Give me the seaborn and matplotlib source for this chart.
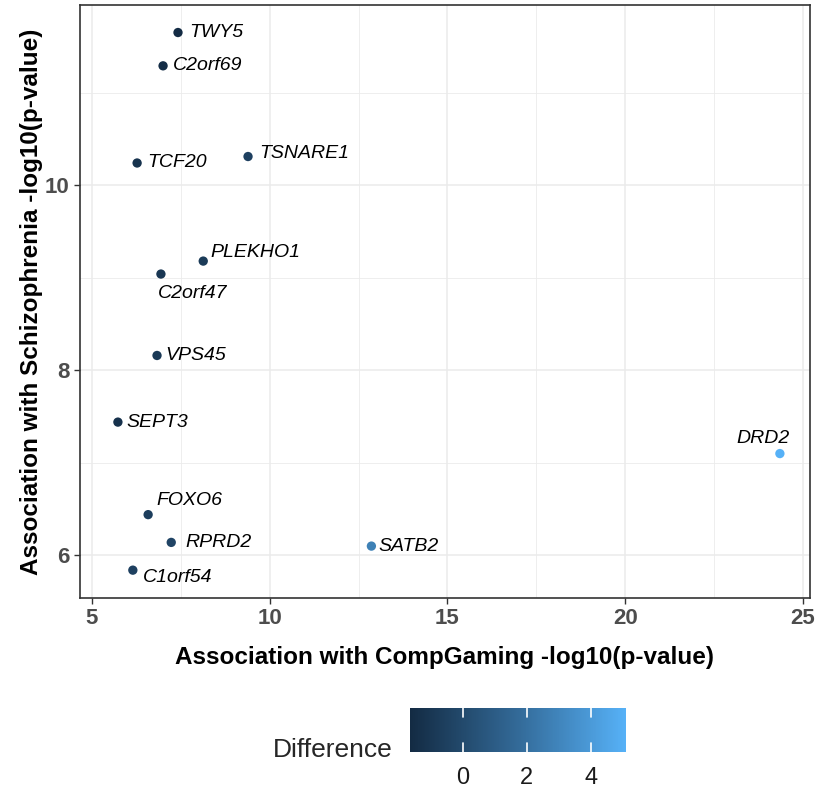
import matplotlib
matplotlib.use("Agg")
import matplotlib.pyplot as plt
import seaborn as sns
import pandas as pd
from matplotlib.colors import LinearSegmentedColormap, Normalize
from matplotlib.cm import ScalarMappable
from matplotlib.ticker import MultipleLocator

genes = ["TWY5", "C2orf69", "TCF20", "TSNARE1", "PLEKHO1", "C2orf47", "VPS45",
         "SEPT3", "FOXO6", "RPRD2", "C1orf54", "SATB2", "DRD2"]
compgaming = [7.42, 7.00, 6.27, 9.39, 8.13, 6.94, 6.83, 5.73, 6.58, 7.23, 6.15, 12.86, 24.35]
schizo = [11.65, 11.29, 10.24, 10.31, 9.18, 9.04, 8.16, 7.44, 6.44, 6.14, 5.84, 6.10, 7.10]
difference = [-1.6, -1.5, -1.2, -0.5, -0.8, -1.0, -0.9, -1.3, -0.6, -0.3, -0.5, 2.8, 5.1]

# label offsets in points (dx, dy) and horizontal alignment
label_off = {"TWY5": (8, 0, "left"), "C2orf69": (7, 0, "left"), "TCF20": (7, 0, "left"),
             "TSNARE1": (8, 2, "left"), "PLEKHO1": (5, 6, "left"), "C2orf47": (-2, -14, "left"),
             "VPS45": (6, 0, "left"), "SEPT3": (6, 0, "left"), "FOXO6": (6, 10, "left"),
             "RPRD2": (10, 0, "left"), "C1orf54": (7, -5, "left"), "SATB2": (5, 0, "left"),
             "DRD2": (7, 11, "right")}

df = pd.DataFrame({"gene": genes, "x": compgaming, "y": schizo, "Difference": difference})

sns.set_theme(style="white")
plt.rcParams["font.family"] = ["Liberation Sans", "DejaVu Sans"]

cmap = LinearSegmentedColormap.from_list("gg", ["#132B43", "#336A98", "#56B1F7"])
dmin, dmax = -1.65, 5.1
norm = Normalize(dmin, dmax)

fig = plt.figure(figsize=(8.15, 7.93), dpi=100)
ax = fig.add_axes([0.098, 0.246, 0.896, 0.748])

ax.xaxis.set_minor_locator(MultipleLocator(2.5))
ax.yaxis.set_minor_locator(MultipleLocator(1))
ax.grid(True, which="major", color="#EBEBEB", lw=1.1)
ax.grid(True, which="minor", color="#EBEBEB", lw=0.6)
ax.set_axisbelow(True)

sns.scatterplot(data=df, x="x", y="y", hue="Difference", palette=cmap, hue_norm=norm,
                s=45, edgecolor="none", legend=False, ax=ax, zorder=3)

for g, xv, yv in zip(genes, compgaming, schizo):
    dx, dy, ha = label_off[g]
    ax.annotate(g, (xv, yv), xytext=(dx, dy), textcoords="offset points",
                ha=ha, va="center", fontsize=14, style="italic", color="black")

ax.set_xlim(4.66, 25.2)
ax.set_ylim(5.54, 11.95)
ax.set_xticks([5, 10, 15, 20, 25])
ax.set_yticks([6, 8, 10])
ax.tick_params(axis="both", which="major", direction="out", length=4, width=1,
               color="#333333", labelsize=16, labelcolor="#4D4D4D", bottom=True, left=True)
for lab in ax.get_xticklabels() + ax.get_yticklabels():
    lab.set_fontweight("bold")
for sp in ax.spines.values():
    sp.set_color("#333333")
    sp.set_linewidth(1.2)

ax.set_xlabel("Association with CompGaming -log10(p-value)", fontsize=17.5,
              fontweight="bold", color="black", labelpad=12)
ax.set_ylabel("Association with Schizophrenia -log10(p-value)", fontsize=17.5,
              fontweight="bold", color="black", labelpad=1)

# colour bar at the bottom
cax = fig.add_axes([410 / 815, 1 - 752 / 793, 216 / 815, 44 / 793])
cb = fig.colorbar(ScalarMappable(norm=norm, cmap=cmap), cax=cax, orientation="horizontal")
cb.outline.set_visible(False)
cb.set_ticks([0, 2, 4])
cax.tick_params(length=0, labelsize=17, labelcolor="#1a1a1a", pad=11)
for t in [0, 2, 4]:
    cax.plot([t, t], [0, 0.2], color="white", lw=1.2, transform=cax.get_xaxis_transform())
    cax.plot([t, t], [0.8, 1], color="white", lw=1.2, transform=cax.get_xaxis_transform())
fig.text(393 / 815, 1 - 750 / 793, "Difference", ha="right", va="center", fontsize=19)

fig.savefig("out.png", dpi=100)
